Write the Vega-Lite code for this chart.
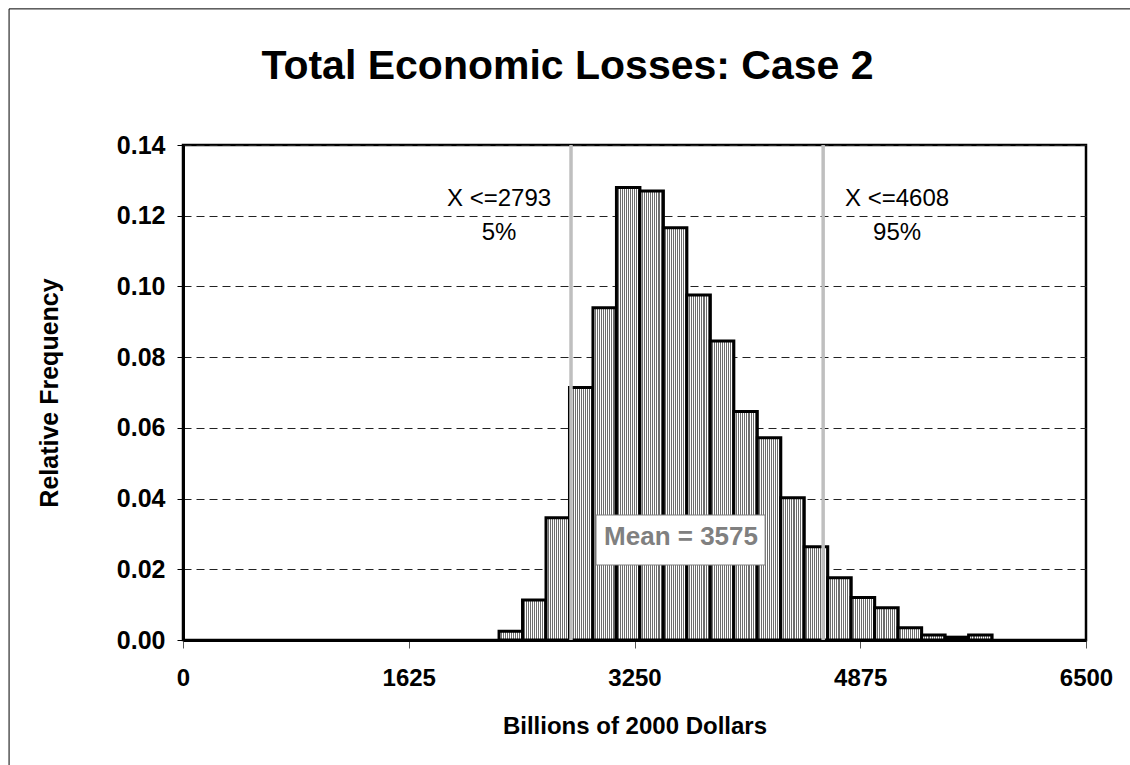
{
  "$schema": "https://vega.github.io/schema/vega-lite/v6.json",
  "autosize": "none",
  "width": 903,
  "height": 495,
  "padding": {"left": 183, "top": 145, "right": 44, "bottom": 125},
  "background": "white",
  "title": {
    "text": "Total Economic Losses: Case 2",
    "font": "Liberation Sans",
    "fontSize": 41,
    "fontWeight": "bold",
    "color": "black",
    "anchor": "middle",
    "dx": -67,
    "dy": 112,
    "baseline": "alphabetic",
    "offset": 0
  },
  "datasets": {
    "bins": [
      {"x0": 2275, "x1": 2444, "freq": 0.0025},
      {"x0": 2444, "x1": 2613, "freq": 0.0113},
      {"x0": 2613, "x1": 2782, "freq": 0.0346},
      {"x0": 2782, "x1": 2951, "freq": 0.0714},
      {"x0": 2951, "x1": 3120, "freq": 0.0940},
      {"x0": 3120, "x1": 3289, "freq": 0.1280},
      {"x0": 3289, "x1": 3458, "freq": 0.1270},
      {"x0": 3458, "x1": 3627, "freq": 0.1166},
      {"x0": 3627, "x1": 3796, "freq": 0.0976},
      {"x0": 3796, "x1": 3965, "freq": 0.0846},
      {"x0": 3965, "x1": 4134, "freq": 0.0646},
      {"x0": 4134, "x1": 4303, "freq": 0.0572},
      {"x0": 4303, "x1": 4472, "freq": 0.0402},
      {"x0": 4472, "x1": 4641, "freq": 0.0264},
      {"x0": 4641, "x1": 4810, "freq": 0.0176},
      {"x0": 4810, "x1": 4979, "freq": 0.0120},
      {"x0": 4979, "x1": 5148, "freq": 0.0091},
      {"x0": 5148, "x1": 5317, "freq": 0.0035},
      {"x0": 5317, "x1": 5486, "freq": 0.0014},
      {"x0": 5486, "x1": 5655, "freq": 0.0008},
      {"x0": 5655, "x1": 5824, "freq": 0.0014}
    ],
    "pct": [
      {"value": 2793, "q": "5%"},
      {"value": 4608, "q": "95%"}
    ],
    "one": [{}]
  },
  "config": {
    "view": {"stroke": "black", "strokeWidth": 2.5},
    "axis": {
      "labelFont": "Liberation Sans",
      "labelFontSize": 24,
      "labelFontWeight": "bold",
      "labelColor": "black",
      "titleFont": "Liberation Sans",
      "titleFontSize": 24,
      "titleFontWeight": "bold",
      "titleColor": "black",
      "domainColor": "black",
      "domainWidth": 3,
      "tickColor": "black",
      "tickWidth": 1
    }
  },
  "layer": [
    {
      "data": {"name": "bins"},
      "mark": {
        "type": "rect",
        "stroke": "black",
        "strokeWidth": 3,
        "fill": {
          "gradient": "linear",
          "x1": 0, "x2": 1, "y1": 0, "y2": 0,
          "stops": [
            {"offset": 0, "color": "#6e6e6e"}, {"offset": 0.0417, "color": "#6e6e6e"}, {"offset": 0.0417, "color": "#ffffff"}, {"offset": 0.0833, "color": "#ffffff"},
            {"offset": 0.0833, "color": "#6e6e6e"}, {"offset": 0.125, "color": "#6e6e6e"}, {"offset": 0.125, "color": "#ffffff"}, {"offset": 0.1667, "color": "#ffffff"},
            {"offset": 0.1667, "color": "#6e6e6e"}, {"offset": 0.2083, "color": "#6e6e6e"}, {"offset": 0.2083, "color": "#ffffff"}, {"offset": 0.25, "color": "#ffffff"},
            {"offset": 0.25, "color": "#6e6e6e"}, {"offset": 0.2917, "color": "#6e6e6e"}, {"offset": 0.2917, "color": "#ffffff"}, {"offset": 0.3333, "color": "#ffffff"},
            {"offset": 0.3333, "color": "#6e6e6e"}, {"offset": 0.375, "color": "#6e6e6e"}, {"offset": 0.375, "color": "#ffffff"}, {"offset": 0.4167, "color": "#ffffff"},
            {"offset": 0.4167, "color": "#6e6e6e"}, {"offset": 0.4583, "color": "#6e6e6e"}, {"offset": 0.4583, "color": "#ffffff"}, {"offset": 0.5, "color": "#ffffff"},
            {"offset": 0.5, "color": "#6e6e6e"}, {"offset": 0.5417, "color": "#6e6e6e"}, {"offset": 0.5417, "color": "#ffffff"}, {"offset": 0.5833, "color": "#ffffff"},
            {"offset": 0.5833, "color": "#6e6e6e"}, {"offset": 0.625, "color": "#6e6e6e"}, {"offset": 0.625, "color": "#ffffff"}, {"offset": 0.6667, "color": "#ffffff"},
            {"offset": 0.6667, "color": "#6e6e6e"}, {"offset": 0.7083, "color": "#6e6e6e"}, {"offset": 0.7083, "color": "#ffffff"}, {"offset": 0.75, "color": "#ffffff"},
            {"offset": 0.75, "color": "#6e6e6e"}, {"offset": 0.7917, "color": "#6e6e6e"}, {"offset": 0.7917, "color": "#ffffff"}, {"offset": 0.8333, "color": "#ffffff"},
            {"offset": 0.8333, "color": "#6e6e6e"}, {"offset": 0.875, "color": "#6e6e6e"}, {"offset": 0.875, "color": "#ffffff"}, {"offset": 0.9167, "color": "#ffffff"},
            {"offset": 0.9167, "color": "#6e6e6e"}, {"offset": 0.9583, "color": "#6e6e6e"}, {"offset": 0.9583, "color": "#ffffff"}, {"offset": 1, "color": "#ffffff"}
          ]
        }
      },
      "encoding": {
        "x": {
          "field": "x0",
          "type": "quantitative",
          "scale": {"domain": [0, 6500], "nice": false, "zero": true},
          "axis": {
            "values": [0, 1625, 3250, 4875, 6500],
            "format": "d",
            "grid": false,
            "tickSize": 8,
            "tickColor": "#555555",
            "labelPadding": 37,
            "labelBaseline": "alphabetic",
            "labelFlush": false,
            "title": "Billions of 2000 Dollars",
            "titleX": 451.5,
            "titleY": 93,
            "titleBaseline": "alphabetic",
            "titleAlign": "center"
          }
        },
        "x2": {"field": "x1"},
        "y": {
          "field": "freq",
          "type": "quantitative",
          "scale": {"domain": [0, 0.14], "nice": false},
          "axis": {
            "values": [0, 0.02, 0.04, 0.06, 0.08, 0.1, 0.12, 0.14],
            "format": ".2f",
            "grid": true,
            "gridDash": [8, 5],
            "gridColor": "#222222",
            "gridWidth": 1,
            "tickSize": 6,
            "labelPadding": 12,
            "labelFontSize": 25,
            "title": "Relative Frequency",
            "titleFontSize": 25,
            "titleX": -126,
            "titleY": 247.5,
            "titleAngle": -90,
            "titleBaseline": "alphabetic",
            "titleAlign": "center"
          }
        },
        "y2": {"datum": 0}
      }
    },
    {
      "data": {"name": "pct"},
      "mark": {"type": "rule", "color": "#bfbfbf", "strokeWidth": 3.5},
      "encoding": {
        "x": {"field": "value", "type": "quantitative"},
        "y": {"datum": 0},
        "y2": {"datum": 0.14}
      }
    },
    {
      "data": {"name": "one"},
      "mark": {"type": "rect", "fill": "white", "stroke": "#808080", "strokeWidth": 1},
      "encoding": {
        "x": {"datum": 2973},
        "x2": {"datum": 4190},
        "y": {"datum": 0.03535},
        "y2": {"datum": 0.02121}
      }
    },
    {
      "data": {"name": "one"},
      "mark": {"type": "text", "text": "Mean = 3575", "font": "Liberation Sans", "fontSize": 26, "fontWeight": "bold", "color": "#808080", "align": "center", "baseline": "middle"},
      "encoding": {
        "x": {"datum": 3585},
        "y": {"datum": 0.029}
      }
    },
    {
      "data": {"name": "one"},
      "mark": {"type": "text", "text": "X <=2793", "font": "Liberation Sans", "fontSize": 24, "color": "black", "align": "center", "baseline": "middle"},
      "encoding": {"x": {"datum": 2275}, "y": {"datum": 0.1247}}
    },
    {
      "data": {"name": "one"},
      "mark": {"type": "text", "text": "5%", "font": "Liberation Sans", "fontSize": 24, "color": "black", "align": "center", "baseline": "middle"},
      "encoding": {"x": {"datum": 2275}, "y": {"datum": 0.1151}}
    },
    {
      "data": {"name": "one"},
      "mark": {"type": "text", "text": "X <=4608", "font": "Liberation Sans", "fontSize": 24, "color": "black", "align": "center", "baseline": "middle"},
      "encoding": {"x": {"datum": 5140}, "y": {"datum": 0.1247}}
    },
    {
      "data": {"name": "one"},
      "mark": {"type": "text", "text": "95%", "font": "Liberation Sans", "fontSize": 24, "color": "black", "align": "center", "baseline": "middle"},
      "encoding": {"x": {"datum": 5140}, "y": {"datum": 0.1151}}
    },
    {
      "data": {"name": "one"},
      "mark": {"type": "rule", "color": "black", "strokeWidth": 1, "clip": false},
      "encoding": {"x": {"datum": -1252}, "y": {"datum": -0.04}, "y2": {"datum": 0.1785}}
    },
    {
      "data": {"name": "one"},
      "mark": {"type": "rule", "color": "black", "strokeWidth": 1, "clip": false},
      "encoding": {"x": {"datum": -1252}, "x2": {"datum": 6830}, "y": {"datum": 0.1785}}
    }
  ]
}
